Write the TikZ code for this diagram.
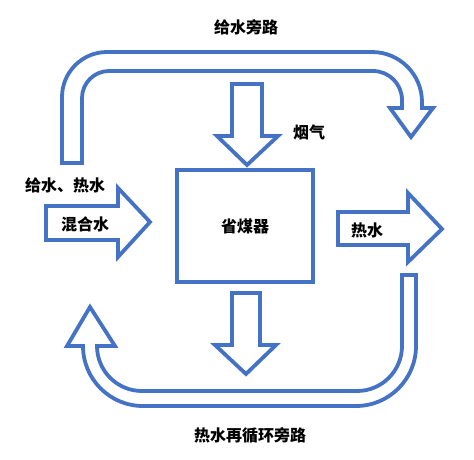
\documentclass[tikz,border=0pt]{standalone}
\usepackage{fontspec}
\usepackage{tikz}
\newfontfamily\cjk{Noto Sans CJK SC}
\definecolor{flowblue}{HTML}{4472C4}
\tikzset{
  flow arrow/.style={
    draw=flowblue,
    line width=3.8pt,
    line join=miter,
    fill=white,
  },
  flow label/.style={
    font=\cjk\bfseries\fontsize{16}{18}\selectfont,
    inner sep=0pt,
  },
  eco box/.style={
    rectangle,
    draw=flowblue,
    line width=3.8pt,
    minimum width=136pt,
    minimum height=112pt,
    font=\cjk\bfseries\fontsize{16}{18}\selectfont,
  },
}

\begin{document}
\begin{tikzpicture}[x=1pt,y=-1pt]
  \useasboundingbox (0,0) rectangle (474,459);

  % feed water bypass (top)
  \draw[flow arrow] (62,163) [rounded corners=45pt] -- (62,52)
    [rounded corners=50pt] -- (422,52) [sharp corners] -- (422,108)
    -- (433,108) -- (411,137) -- (390,108) -- (402,108)
    [rounded corners=29pt] -- (402,71) [rounded corners=27pt] -- (82,71)
    [sharp corners] -- (82,163) -- cycle;

  % hot water recirculation bypass (bottom)
  \draw[flow arrow] (402,275) -- (416,275) [rounded corners=60pt] -- (416,406)
    [rounded corners=60pt] -- (83,406) [sharp corners] -- (83,346)
    -- (67,346) -- (90,307) -- (115,346) -- (97,346)
    [rounded corners=45pt] -- (97,391) [rounded corners=45pt] -- (402,391)
    [sharp corners] -- cycle;

  % flue gas in / out
  \draw[flow arrow] (232,84) -- (262,84) -- (262,136) -- (278,136)
    -- (247,165) -- (217,136) -- (232,136) -- cycle;
  \draw[flow arrow] (232,293) -- (260,293) -- (260,345) -- (276,345)
    -- (246,374) -- (215,345) -- (232,345) -- cycle;

  % mixed water in, hot water out
  \draw[flow arrow] (46,206) -- (118,206) -- (118,188) -- (150,222)
    -- (118,257) -- (118,240) -- (46,240) -- cycle;
  \draw[flow arrow] (338,212) -- (408,212) -- (408,193) -- (442,229)
    -- (408,262) -- (408,245) -- (338,245) -- cycle;

  \node[eco box] (eco) at (245,226) {省煤器};

  \node[flow label] (bypass) at (246,27) {给水旁路};
  \node[flow label] (flue) at (309,132) {烟气};
  \node[flow label] (feed) at (65,185) {给水、热水};
  \node[flow label] (mixed) at (85,224) {混合水};
  \node[flow label] (hot) at (367,230) {热水};
  \node[flow label] (recirc) at (250,435) {热水再循环旁路};
\end{tikzpicture}
\end{document}
